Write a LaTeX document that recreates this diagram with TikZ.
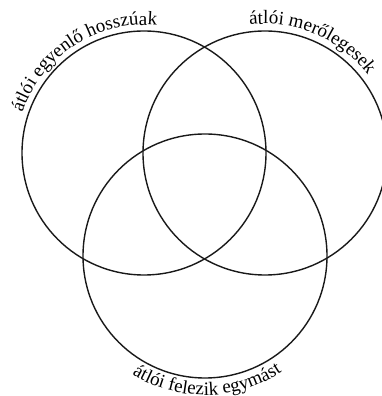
\documentclass[tikz,border=0pt]{standalone}
\usepackage{fontspec}
\setmainfont{Liberation Serif}
\usetikzlibrary{decorations.text}
\tikzset{
  ring/.style={draw=black!90, line width=1.4pt},
  arclab/.style={decorate, decoration={text along path, text align=center,
    text={|\fontsize{19}{21}\selectfont|#1}}}}

\begin{document}
\begin{tikzpicture}[x=1pt, y=1pt]
  \useasboundingbox (0,0) rectangle (382,396);
  \coordinate (dL) at (144,243);
  \coordinate (dR) at (265,243);
  \coordinate (dB) at (205,140);
  \foreach \c in {dL,dR,dB}
    \draw[ring] (\c) circle[radius=122pt];
  % labels bent round the rings
  \path[arclab={átlói egyenlő hosszúak}] (dL) ++(183:128pt) arc[start angle=183, end angle=63, radius=128pt];
  \path[arclab={átlói merőlegesek}] (dR) ++(127:129pt) arc[start angle=127, end angle=7, radius=129pt];
  \path[arclab={átlói felezik egymást}] (dB) ++(211:139pt) arc[start angle=211, end angle=331, radius=139pt];
\end{tikzpicture}
\end{document}
